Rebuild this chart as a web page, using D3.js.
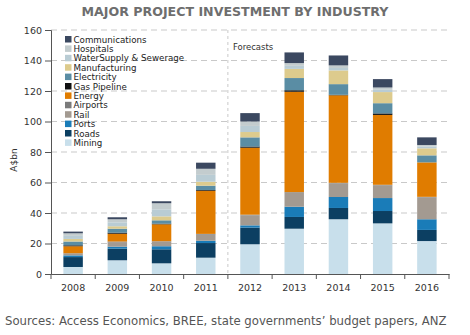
<html>
<head>
<script src="https://d3js.org/d3.v7.min.js"></script>
<style>
  body { margin: 0; background: #fff; }
  text { font-family: "DejaVu Sans", Verdana, sans-serif; }
</style>
</head>
<body>
<svg width="470" height="335"></svg>
<script>
  // data (A$bn)
  const years = ['2008', '2009', '2010', '2011', '2012', '2013', '2014', '2015', '2016'];
  const yTicks = [0, 20, 40, 60, 80, 100, 120, 140, 160];
  const industries = ['Mining', 'Roads', 'Ports', 'Rail', 'Airports', 'Energy', 'Gas Pipeline',
                      'Electricity', 'Manufacturing', 'WaterSupply & Sewerage', 'Hospitals', 'Communications'];
  const mining        = [4.6, 9.0, 7.0, 10.7, 19.5, 29.7, 35.9, 33.2, 21.6];
  const roads         = [6.5, 7.6, 9.2, 9.6, 10.9, 7.7, 7.4, 8.1, 7.3];
  const ports         = [1.1, 1.3, 2.0, 1.5, 1.5, 6.7, 7.2, 8.5, 7.0];
  const rail          = [1.1, 3.0, 3.0, 4.0, 6.6, 9.2, 9.0, 8.4, 14.4];
  const airports      = [0.3, 0.4, 0.3, 0.5, 0.4, 0.4, 0.3, 0.3, 0.3];
  const energy        = [4.6, 5.1, 11.1, 28.3, 43.9, 65.8, 57.4, 45.8, 22.6];
  const gasPipeline   = [0.6, 0.7, 0.4, 0.5, 0.8, 1.0, 0.3, 1.0, 0.0];
  const electricity   = [2.5, 2.6, 2.2, 2.8, 6.0, 8.0, 7.0, 6.7, 4.6];
  const manufacturing = [1.7, 1.6, 2.6, 2.6, 3.5, 6.0, 9.0, 7.3, 4.6];
  const waterSupply   = [2.0, 2.6, 4.6, 4.5, 4.0, 2.0, 1.6, 1.5, 1.2];
  const hospitals     = [1.7, 2.0, 4.0, 4.0, 2.9, 1.8, 1.7, 1.5, 1.0];
  const communications = [1.1, 1.3, 1.3, 4.0, 5.5, 7.0, 6.5, 5.5, 5.0];

  const series = [mining, roads, ports, rail, airports, energy, gasPipeline,
                  electricity, manufacturing, waterSupply, hospitals, communications];
  const colors = ['#c8dfeb', '#0c3f62', '#1a7cb8', '#a39a91', '#7b7b7b', '#e07c00', '#111111',
                  '#5a8da4', '#ddcb8d', '#b9ccd4', '#c3ccce', '#3b4860'];

  const table = years.map((y, i) => {
    const row = {year: y};
    industries.forEach((k, j) => row[k] = series[j][i]);
    return row;
  });
  const stacked = d3.stack().keys(industries)(table);

  const svg = d3.select('svg');
  svg.append('rect').attr('width', 470).attr('height', 335).attr('fill', '#fff');

  const x = d3.scaleBand().domain(years).range([51, 449]).paddingInner(0.56).paddingOuter(0.28);
  const y = d3.scaleLinear().domain([0, 160]).range([274, 30]);
  const step = x.step();

  // gridlines
  svg.append('g')
    .selectAll('line')
    .data(yTicks.filter(d => d > 0))
    .enter()
    .append('line')
    .attr('x1', 51).attr('x2', 449)
    .attr('y1', d => y(d)).attr('y2', d => y(d))
    .attr('stroke', '#c9c9c9')
    .attr('stroke-dasharray', '6,4');

  // forecast divider
  const fx = x('2012') - step * 0.28;
  svg.append('line')
    .attr('x1', fx).attr('x2', fx)
    .attr('y1', 30).attr('y2', 274)
    .attr('stroke', '#c9c9c9')
    .attr('stroke-dasharray', '3,3');
  svg.append('text')
    .attr('x', fx + 5).attr('y', 50)
    .attr('font-size', 8.5).attr('fill', '#333')
    .text('Forecasts');

  // bars
  svg.append('g')
    .selectAll('g')
    .data(stacked)
    .enter()
    .append('g')
    .attr('fill', (d, i) => colors[i])
    .selectAll('rect')
    .data(d => d)
    .enter()
    .append('rect')
    .attr('x', d => x(d.data.year))
    .attr('width', x.bandwidth())
    .attr('y', d => y(d[1]))
    .attr('height', d => y(d[0]) - y(d[1]));

  // y axis
  const yAxis = svg.append('g')
    .attr('transform', 'translate(51,0)')
    .call(d3.axisLeft(y).tickValues(yTicks).tickSize(6).tickPadding(3));
  yAxis.select('.domain').attr('stroke', '#555');
  yAxis.selectAll('.tick line').attr('stroke', '#555');
  yAxis.selectAll('text').attr('font-size', 9.5).attr('fill', '#333')
    .attr('font-family', '"DejaVu Sans", Verdana, sans-serif');

  // x axis
  const xAxis = svg.append('g')
    .attr('transform', 'translate(0,274)')
    .call(d3.axisBottom(x).tickSize(0).tickPadding(10).tickSizeOuter(0));
  xAxis.select('.domain').attr('stroke', '#555');
  xAxis.selectAll('text').attr('font-size', 9.5).attr('fill', '#333')
    .attr('font-family', '"DejaVu Sans", Verdana, sans-serif');
  xAxis.selectAll('.sep')
    .data(years.concat(['end']))
    .enter()
    .append('line')
    .attr('x1', (d, i) => 51 + i * step)
    .attr('x2', (d, i) => 51 + i * step)
    .attr('y1', 0).attr('y2', 5)
    .attr('stroke', '#555');

  // y label
  svg.append('text')
    .attr('transform', 'translate(17,160) rotate(-90)')
    .attr('text-anchor', 'middle')
    .attr('font-size', 9).attr('fill', '#333')
    .text('A$bn');

  // legend
  const legend = svg.append('g')
    .selectAll('g')
    .data(industries.slice().reverse())
    .enter()
    .append('g')
    .attr('transform', (d, i) => `translate(65,${36 + i * 9.4})`);
  legend.append('rect')
    .attr('width', 6.5).attr('height', 6.5)
    .attr('fill', d => colors[industries.indexOf(d)]);
  legend.append('text')
    .attr('x', 8.5).attr('y', 6.5)
    .attr('font-size', 8.7).attr('fill', '#222')
    .text(d => d);

  // title
  svg.append('text')
    .attr('x', 235).attr('y', 16)
    .attr('text-anchor', 'middle')
    .attr('font-size', 12.6).attr('font-weight', 'bold').attr('fill', '#6e6e6e')
    .text('MAJOR PROJECT INVESTMENT BY INDUSTRY');

  // source
  svg.append('text')
    .attr('x', 5).attr('y', 325)
    .attr('font-size', 11.7).attr('fill', '#555')
    .text('Sources: Access Economics, BREE, state governments\u2019 budget papers, ANZ');
</script>
</body>
</html>
